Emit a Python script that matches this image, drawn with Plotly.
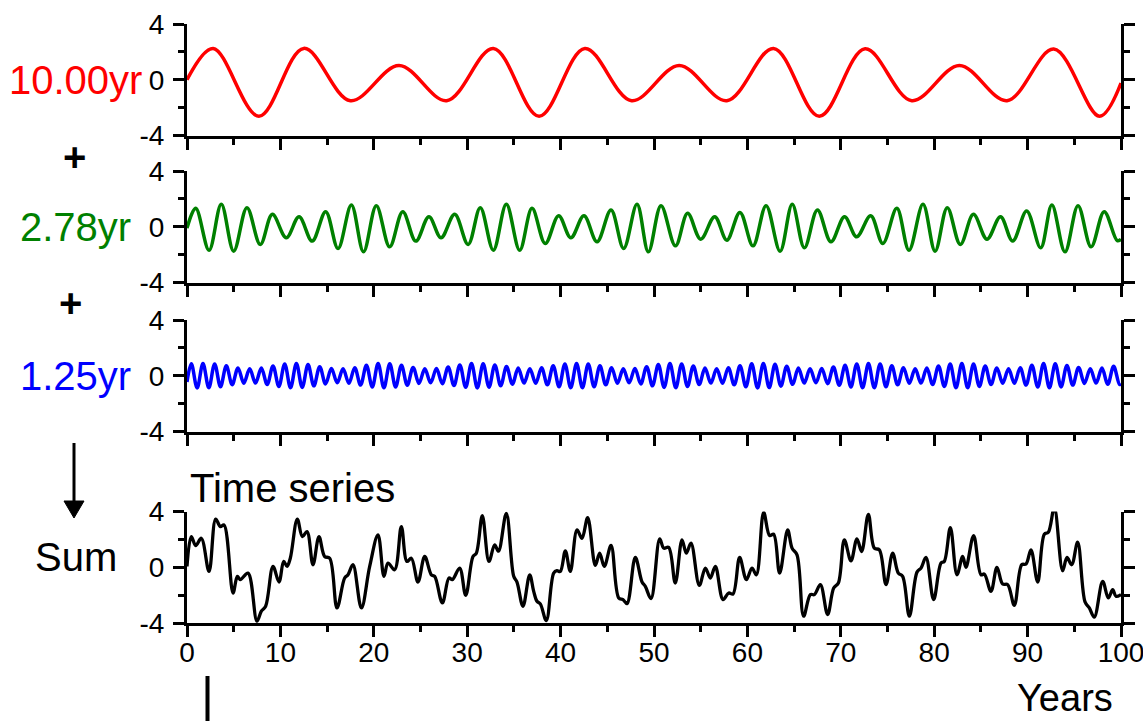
import plotly.graph_objects as go

W, H = 1143, 721

# ---------------- data ----------------
years_ticks = [0, 10, 20, 30, 40, 50, 60, 70, 80, 90, 100]
years_minor = [5, 15, 25, 35, 45, 55, 65, 75, 85, 95]
y_ticks = [-4, 0, 4]
y_ticktext = ["-4", "0", "4"]
y_minor = [-2, 2]

# 10.00 yr component (extrema)
red_t = [0, 2.8, 7.7, 12.5, 17.5, 22.7, 27.8, 32.8, 37.7, 42.6, 47.6, 52.7, 57.8,
         62.8, 67.7, 72.6, 77.6, 82.7, 87.8, 92.8, 97.7, 100]
red_v = [0, 2.25, -2.62, 2.25, -1.5, 1.02, -1.5, 2.25, -2.62, 2.25, -1.5, 1.02, -1.5,
         2.25, -2.62, 2.22, -1.5, 1.02, -1.5, 2.2, -2.62, -0.24]

# 2.78 yr component (extrema)
green_t = [0, 0.93, 2.36, 3.67, 5.0, 6.42, 7.85, 9.14, 10.63, 12.0, 13.4, 14.85, 16.17,
           17.6, 18.9, 20.27, 21.7, 23.1, 24.5, 25.9, 27.2, 28.66, 30.1, 31.4, 32.8,
           34.19, 35.62, 36.94, 38.36, 39.79, 41.1, 42.5, 43.9, 45.4, 46.75, 48.18,
           49.4, 50.75, 52.3, 53.6, 55.0, 56.5, 57.8, 59.2, 60.6, 62.0, 63.5, 64.8,
           66.1, 67.5, 68.95, 70.4, 71.7, 73.2, 74.5, 76.0, 77.3, 78.8, 80.1, 81.4,
           82.8, 84.2, 85.65, 87.1, 88.4, 89.9, 91.4, 92.6, 94.0, 95.4, 96.8, 98.2,
           99.6, 100]
green_v = [-0.1, 1.32, -1.68, 1.61, -1.75, 1.37, -1.27, 0.89, -0.79, 0.72, -1.03, 1.08,
           -1.56, 1.56, -1.8, 1.51, -1.44, 1.08, -1.03, 0.72, -0.79, 0.89, -1.27, 1.37,
           -1.68, 1.61, -1.68, 1.32, -1.2, 0.79, -0.79, 0.79, -1.08, 1.2, -1.56, 1.61,
           -1.8, 1.51, -1.37, 0.96, -0.89, 0.72, -0.96, 1.03, -1.37, 1.51, -1.75, 1.61,
           -1.51, 1.2, -1.08, 0.72, -0.72, 0.79, -1.2, 1.32, -1.68, 1.61, -1.75, 1.37,
           -1.27, 0.89, -0.89, 0.72, -1.03, 1.13, -1.51, 1.56, -1.8, 1.51, -1.44, 1.08,
           -1.0, -0.9]

# 1.25 yr component (peaks and troughs)
blue_peak_t = [0.46, 1.71, 2.96, 4.21, 5.46, 6.71, 7.96, 9.21, 10.46, 11.71, 12.96, 14.21,
               15.46, 16.71, 17.96, 19.21, 20.46, 21.71, 22.96, 24.21, 25.46, 26.71, 27.96,
               29.21, 30.46, 31.71, 32.96, 34.21, 35.46, 36.71, 37.96, 39.21, 40.46, 41.71,
               42.96, 44.21, 45.46, 46.71, 47.96, 49.21, 50.46, 51.71, 52.96, 54.21, 55.46,
               56.71, 57.96, 59.21, 60.46, 61.71, 62.96, 64.21, 65.46, 66.71, 67.96, 69.21,
               70.46, 71.71, 72.96, 74.21, 75.46, 76.71, 77.96, 79.21, 80.46, 81.71, 82.96,
               84.21, 85.46, 86.71, 87.96, 89.21, 90.46, 91.71, 92.96, 94.21, 95.46, 96.71,
               97.96, 99.21]
blue_peak_v = [0.86, 0.88, 0.85, 0.72, 0.56, 0.5, 0.55, 0.7,
               0.85, 0.88, 0.8, 0.65, 0.52, 0.5, 0.58, 0.75,
               0.87, 0.86, 0.75, 0.6, 0.5, 0.52, 0.62, 0.78,
               0.88, 0.86, 0.78, 0.66, 0.55, 0.5, 0.58, 0.72,
               0.85, 0.88, 0.85, 0.72, 0.58, 0.5, 0.52, 0.65,
               0.8, 0.88, 0.85, 0.7, 0.55, 0.5, 0.58, 0.72,
               0.86, 0.88, 0.82, 0.68, 0.55, 0.5, 0.52, 0.62,
               0.75, 0.85, 0.88, 0.85, 0.72, 0.58, 0.5, 0.55,
               0.7, 0.84, 0.88, 0.84, 0.7, 0.56, 0.5, 0.58,
               0.75, 0.87, 0.86, 0.74, 0.6, 0.5, 0.55, 0.68]
blue_trough_t = [1.085, 2.335, 3.585, 4.835, 6.085, 7.335, 8.585, 9.835, 11.085, 12.335,
                 13.585, 14.835, 16.085, 17.335, 18.585, 19.835, 21.085, 22.335, 23.585,
                 24.835, 26.085, 27.335, 28.585, 29.835, 31.085, 32.335, 33.585, 34.835,
                 36.085, 37.335, 38.585, 39.835, 41.085, 42.335, 43.585, 44.835, 46.085,
                 47.335, 48.585, 49.835, 51.085, 52.335, 53.585, 54.835, 56.085, 57.335,
                 58.585, 59.835, 61.085, 62.335, 63.585, 64.835, 66.085, 67.335, 68.585,
                 69.835, 71.085, 72.335, 73.585, 74.835, 76.085, 77.335, 78.585, 79.835,
                 81.085, 82.335, 83.585, 84.835, 86.085, 87.335, 88.585, 89.835, 91.085,
                 92.335, 93.585, 94.835, 96.085, 97.335, 98.585, 99.835]
blue_trough_v = [-0.87, -0.865, -0.785, -0.64, -0.53, -0.525, -0.625, -0.775,
                 -0.865, -0.84, -0.725, -0.585, -0.51, -0.54, -0.665, -0.81,
                 -0.865, -0.805, -0.675, -0.55, -0.51, -0.57, -0.7, -0.83,
                 -0.87, -0.82, -0.72, -0.605, -0.525, -0.54, -0.65, -0.785,
                 -0.865, -0.865, -0.785, -0.65, -0.54, -0.51, -0.585, -0.725,
                 -0.84, -0.865, -0.775, -0.625, -0.525, -0.54, -0.65, -0.79,
                 -0.87, -0.85, -0.75, -0.615, -0.525, -0.51, -0.57, -0.685,
                 -0.8, -0.865, -0.865, -0.785, -0.65, -0.54, -0.525, -0.625,
                 -0.77, -0.86, -0.86, -0.77, -0.63, -0.53, -0.54, -0.665,
                 -0.81, -0.865, -0.8, -0.67, -0.55, -0.525, -0.615, -0.62]
blue_start = (0, -0.45)
blue_end = (100, -0.58)

# Sum (time series), key points
black_t = [0.0, 0.46, 0.93, 1.53, 2.36, 3.07, 3.57, 3.96, 4.93, 5.39, 5.71, 6.53, 7.49,
           7.96, 8.42, 9.21, 9.85, 10.35, 10.71, 11.06, 11.81, 12.35, 12.85, 13.49, 14.13,
           14.74, 15.28, 16.06, 16.88, 17.24, 17.77, 18.67, 19.56, 20.45, 21.09, 21.52,
           22.23, 22.95, 23.55, 24.02, 24.73, 25.45, 26.16, 26.52, 27.34, 28.05, 28.41,
           29.19, 29.84, 30.62, 30.98, 31.62, 32.33, 32.94, 33.35, 34.19, 34.98, 35.33,
           35.97, 36.69, 37.12, 37.47, 37.83, 38.47, 39.26, 39.61, 39.97, 40.51, 41.04,
           41.76, 42.29, 42.9, 43.72, 44.18, 44.68, 45.4, 46.22, 46.68, 47.11, 48.0,
           48.72, 49.07, 49.68, 50.61, 51.04, 51.57, 52.28, 53.0, 53.46, 53.96, 54.85,
           55.5, 56.03, 56.57, 57.39, 58.0, 58.46, 59.17, 59.89, 60.49, 60.96, 61.74,
           62.38, 62.81, 63.45, 64.31, 64.78, 65.31, 66.02, 66.74, 67.17, 67.81, 68.59,
           69.24, 69.74, 70.38, 71.09, 71.73, 72.23, 72.95, 73.59, 74.13, 74.84, 75.55,
           76.16, 76.62, 77.34, 78.16, 78.59, 79.12, 79.94, 80.73, 81.08, 81.73, 82.44,
           83.05, 83.4, 84.22, 85.01, 85.37, 86.08, 86.72, 87.33, 87.87, 88.58, 89.37,
           89.83, 90.36, 91.08, 91.79, 92.22, 92.86, 93.75, 94.22, 94.72, 95.36, 96.15,
           96.61, 97.14, 98.04, 98.64, 99.11, 99.46, 100]
black_v = [0.06, 2.2, 1.56, 2.08, -0.3, 3.46, 2.92, 3.04, -1.85, -0.65, -0.89, -0.42, -3.87,
           -3.15, -2.8, 0.06, -1.06, 0.42, 0.06, 0.65, 3.46, 2.2, 2.56, 0.18, 2.2,
           0.77, 0.65, -2.92, -0.77, -0.54, 0.18, -2.92, 0.06, 2.32, -0.65, 0.3,
           -0.18, 2.92, 0.42, 0.65, -1.06, 0.77, -0.54, -0.65, -2.56, -0.77, -0.89,
           -0.06, -2.01, 0.77, 1.01, 3.7, 0.42, 1.61, 1.15, 3.87, -0.65, -1.06,
           -2.8, -0.54, -1.73, -2.44, -2.63, -3.82, -0.42, -0.25, -0.3, 1.18, -0.3,
           2.68, 2.08, 3.56, 0.13, 1.01, 0.06, 1.56, -2.2, -2.32, -2.61, 0.7,
           -1.06, -1.37, -2.25, 2.04, 1.37, 1.42, -1.13, 1.96, 1.01, 1.73, -1.3,
           -0.06, -0.77, 0.06, -2.32, -1.85, -1.92, 0.7, -0.89, -0.06, -0.54, 3.94,
           2.27, 2.37, -0.42, 2.68, 1.37, 0.89, -3.51, -1.96, -1.96, -1.25, -3.39,
           -1.49, -1.13, 1.96, 0.46, 2.04, 1.13, 3.8, 1.37, 1.25, -1.25, 1.01,
           -0.42, -0.65, -3.51, -0.35, -0.06, 0.7, -2.32, 0.3, 0.42, 2.85, -0.54,
           0.77, -0.01, 2.27, -0.54, -0.49, -1.73, -0.01, -1.2, -1.25, -2.73, 0.18,
           0.23, 1.25, -1.06, 2.37, 2.51, 4.27, -0.25, 0.7, 0.18, 1.8, -2.49,
           -2.92, -3.58, -1.01, -2.2, -1.61, -2.08, -1.96]

# build blue sequence from its peaks and troughs
blue_t = [blue_start[0]]
blue_v = [blue_start[1]]
for pt, pv, tt, tv in zip(blue_peak_t, blue_peak_v, blue_trough_t, blue_trough_v):
    blue_t += [pt, tt]
    blue_v += [pv, tv]
blue_t.append(blue_end[0])
blue_v.append(blue_end[1])

# ---------------- layout helpers (pixel positions) ----------------
def px(x):
    return x / W

def py(y):
    return 1 - y / H

X0, X1 = 187, 1121
panels = [(24, 135.5), (171, 282.5), (320, 431.5), (511.5, 623)]  # (top, bottom) px

FONT = "Liberation Sans, Arial, sans-serif"
TICK_SIZE = 28
LABEL_SIZE = 40

fig = go.Figure()
series = [(red_t, red_v, "#ff0000", 3.5),
          (green_t, green_v, "#008000", 3.5),
          (blue_t, blue_v, "#0000ff", 3.5),
          (black_t, black_v, "#000000", 3.3)]
for i, (t, v, c, w) in enumerate(series, start=1):
    fig.add_trace(go.Scatter(x=t, y=v, mode="lines",
                             line=dict(color=c, width=w, shape="spline", smoothing=1),
                             xaxis=f"x{i}", yaxis=f"y{i}", showlegend=False,
                             hoverinfo="skip"))

layout = dict(width=W, height=H, margin=dict(l=0, r=0, t=0, b=0, autoexpand=False),
              paper_bgcolor="white", plot_bgcolor="white",
              font=dict(family=FONT, color="black"))
for i, (top, bot) in enumerate(panels, start=1):
    layout[f"xaxis{i}"] = dict(
        domain=[px(X0), px(X1)], anchor=f"y{i}", range=[0, 100], automargin=False,
        showline=True, linecolor="black", linewidth=3,
        ticks="outside", ticklen=11, tickwidth=3, tickcolor="black",
        tickmode="array", tickvals=years_ticks,
        minor=dict(tickmode="array", tickvals=years_minor, ticks="outside",
                   ticklen=6, tickwidth=3, tickcolor="black", showgrid=False),
        showticklabels=(i == 4), tickfont=dict(size=TICK_SIZE, family=FONT),
        ticklabelstandoff=-9, ticklabeloverflow="allow",
        showgrid=False, zeroline=False, fixedrange=True)
    layout[f"yaxis{i}"] = dict(
        domain=[py(bot), py(top)], anchor=f"x{i}", range=[-4, 4], automargin=False,
        showline=True, linecolor="black", linewidth=3, mirror="ticks",
        ticks="outside", ticklen=11, tickwidth=3, tickcolor="black",
        tickmode="array", tickvals=y_ticks, ticktext=y_ticktext,
        minor=dict(tickmode="array", tickvals=y_minor, ticks="outside",
                   ticklen=6, tickwidth=3, tickcolor="black", showgrid=False),
        tickfont=dict(size=TICK_SIZE, family=FONT), ticklabelstandoff=3,
        ticklabeloverflow="allow",
        showgrid=False, zeroline=False, fixedrange=True)

fig.update_layout(**layout)

def label(text, x, y, color="black", size=LABEL_SIZE, xanchor="center",
          yanchor="middle", bold=False):
    if bold:
        text = f"<b>{text}</b>"
    fig.add_annotation(text=text, x=px(x), y=py(y), xref="paper", yref="paper",
                       xanchor=xanchor, yanchor=yanchor, showarrow=False,
                       font=dict(size=size, color=color, family=FONT))

label("10.00yr", 75, 80, "#ff0000")
label("+", 74, 157, bold=True)
label("2.78yr", 75, 227, "#008000")
label("+", 70, 303, bold=True)
label("1.25yr", 75, 376, "#0000ff")
label("Sum", 76, 557)
label("Time series", 188, 488, xanchor="left")
label("Years", 1065, 721, size=38, yanchor="bottom")

shapes = [
    dict(type="line", xref="paper", yref="paper", x0=px(74), x1=px(74),
         y0=py(443), y1=py(503), line=dict(color="black", width=3)),
    dict(type="path", xref="paper", yref="paper",
         path=f"M {px(64)} {py(501)} L {px(84)} {py(501)} L {px(74)} {py(518)} Z",
         fillcolor="black", line=dict(color="black", width=1)),
    dict(type="line", xref="paper", yref="paper", x0=px(207.5), x1=px(207.5),
         y0=py(676), y1=py(722), line=dict(color="black", width=4)),
]
fig.update_layout(shapes=shapes)

fig.write_html("out.html")
